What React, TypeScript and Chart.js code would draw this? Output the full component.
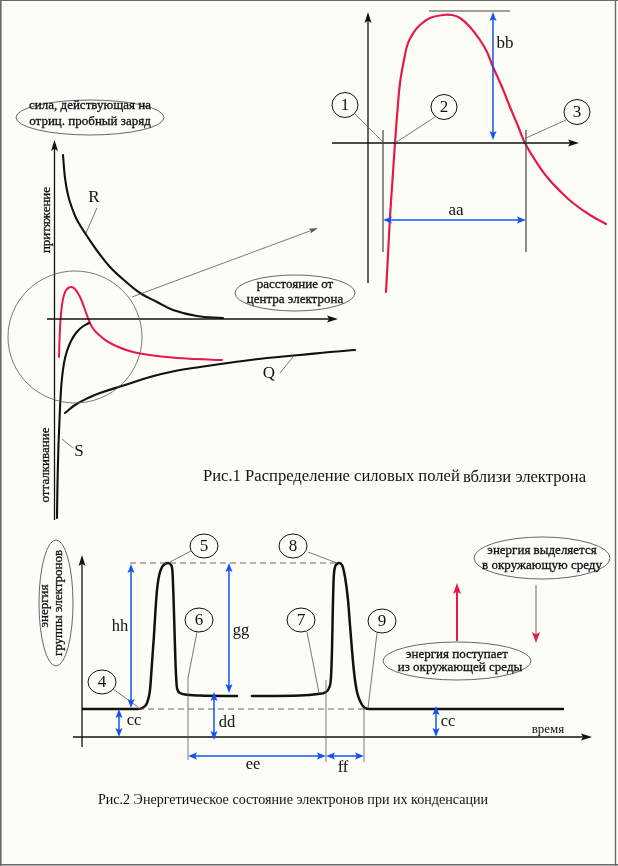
import React, { useEffect, useRef } from 'react';
import { Chart, registerables } from 'chart.js';

Chart.register(...registerables);

// ---- Diagram space: x to the right, y downwards (0..618, 0..866) ----
const SPACE_W = 618;
const SPACE_H = 866;

// Fig.1 (left): force curves
const curveR: number[][] = [[63,155],[65,178],[68,195],[72,208],[77,220],[87,236],[98,252],[110,267],[125,281],[140,293],[157,302],[173,310],[197,316],[223,318]];
const curveS: number[][] = [[89,323],[82,327],[76,333],[71,341],[67,351],[64,363],[62,378],[60.5,398],[59.5,420],[58.5,445],[57.8,470],[57.3,495],[57,518]];
const curveQ: number[][] = [[65,413],[75,405],[88,398],[100,393],[125,385],[150,377],[175,371],[200,367],[235,362],[267,358],[300,355],[330,352],[355,350]];
const curveRedSmall: number[][] = [[59,357],[59.5,340],[60.5,320],[62,305],[64,295],[67,289],[71,287],[75,289],[80,297],[84,307],[88,318],[92,327],[97,333],[110,343],[133,352],[167,357],[195,359],[222,360]];
// Fig.1 (right): magnified resulting curve
const curveRedBig: number[][] = [[386,292],[388,255],[390,217],[392.5,180],[395,143],[397.5,110],[400,83],[404,60],[408,43],[414,32],[420,25],[430,18],[443,15],[452,15],[460,18],[470,27],[480,40],[487,52],[493,67],[502,87],[510,107],[518,126],[525,143],[535,160],[547,177],[560,191],[573,203],[590,215],[606,224]];
// Fig.2: energy of electron group over time
const energyRise: number[][] = [[83,709],[138,709],[143,707.5],[147,703],[150,690],[152,663],[154,635],[155.5,610],[157,590],[159,576],[162,567],[165,564],[168,563],[171,565],[172.5,572],[173.5,597],[174.5,630],[175.5,663],[177,688],[180,693],[185,694.5],[200,695.5],[237,696]];
const energyFall: number[][] = [[252,696],[300,695.5],[318,694],[325,692.5],[329,688],[331,677],[332,650],[332.8,610],[333.6,580],[335,567],[337,564],[339,563],[342,565],[345,577],[348,600],[350,625],[352,650],[354,672],[357,692],[361,703],[365,708],[370,709],[563,709]];

// Texts
const ellipseForce = ['сила, действующая на', 'отриц. пробный заряд'];
const ellipseDistance = ['расстояние от', 'центра электрона'];
const axisAttraction = 'притяжение';
const axisRepulsion = 'отталкивание';
const curveNames = ['R', 'S', 'Q'];
const caption1 = 'Рис.1 Распределение силовых полей';
const caption1Tail = 'вблизи электрона';
const ellipseEnergy = ['энергия', 'группы электронов'];
const ellipseRelease = ['энергия выделяется', 'в окружающую среду'];
const ellipseIntake = ['энергия поступает', 'из окружающей среды'];
const timeLabel = 'время';
const caption2 = 'Рис.2 Энергетическое состояние электронов при их конденсации';
const dimNames = ['aa', 'bb', 'cc', 'dd', 'ee', 'ff', 'gg', 'hh'];
const pointNumbers = ['1', '2', '3', '4', '5', '6', '7', '8', '9'];

const BLACK = '#111';
const GRAY = '#555';
const BLUE = '#1452f2';
const RED = '#e6194b';
const SERIF = "'Liberation Serif', 'Times New Roman', serif";

const toXY = (arr: number[][]) => arr.map(([x, y]) => ({ x, y }));

const diagramPlugin = {
  id: 'diagram',
  beforeDraw(chart: any) {
    const ctx = chart.ctx;
    ctx.save();
    ctx.fillStyle = '#fdfdf8';
    ctx.fillRect(0, 0, chart.width, chart.height);
    ctx.restore();
  },
  afterDatasetsDraw(chart: any) {
    const ctx = chart.ctx;
    const xs = chart.scales.x;
    const ys = chart.scales.y;
    const X = (v: number) => xs.getPixelForValue(v);
    const Y = (v: number) => ys.getPixelForValue(v);
    ctx.save();

    const ln = (x1: number, y1: number, x2: number, y2: number, c = BLACK, w = 1, dash: number[] = []) => {
      ctx.beginPath();
      ctx.setLineDash(dash);
      ctx.strokeStyle = c;
      ctx.lineWidth = w;
      ctx.moveTo(X(x1), Y(y1));
      ctx.lineTo(X(x2), Y(y2));
      ctx.stroke();
      ctx.setLineDash([]);
    };
    const head = (fx: number, fy: number, tx: number, ty: number, c: string, len: number, hw: number) => {
      const px = X(tx), py = Y(ty);
      const dx = px - X(fx), dy = py - Y(fy);
      const d = Math.hypot(dx, dy) || 1;
      const ux = dx / d, uy = dy / d;
      ctx.beginPath();
      ctx.fillStyle = c;
      ctx.moveTo(px, py);
      ctx.lineTo(px - ux * len - uy * hw, py - uy * len + ux * hw);
      ctx.lineTo(px - ux * len * 0.8, py - uy * len * 0.8);
      ctx.lineTo(px - ux * len + uy * hw, py - uy * len - ux * hw);
      ctx.closePath();
      ctx.fill();
    };
    const arrow = (fx: number, fy: number, tx: number, ty: number, c = BLACK, w = 1.3, len = 11, hw = 3.5, hc?: string) => {
      const d = Math.hypot(tx - fx, ty - fy);
      const ux = (tx - fx) / d, uy = (ty - fy) / d;
      ln(fx, fy, tx - ux * len * 0.7, ty - uy * len * 0.7, c, w);
      head(fx, fy, tx, ty, hc || c, len, hw);
    };
    const dbl = (x1: number, y1: number, x2: number, y2: number, c = BLUE, w = 1.5, len = 9, hw = 3.5) => {
      const d = Math.hypot(x2 - x1, y2 - y1);
      const ux = (x2 - x1) / d, uy = (y2 - y1) / d;
      ln(x1 + ux * len * 0.7, y1 + uy * len * 0.7, x2 - ux * len * 0.7, y2 - uy * len * 0.7, c, w);
      head(x1, y1, x2, y2, c, len, hw);
      head(x2, y2, x1, y1, c, len, hw);
    };
    const ell = (cx: number, cy: number, rx: number, ry: number, c = BLACK, w = 1) => {
      ctx.beginPath();
      ctx.strokeStyle = c;
      ctx.lineWidth = w;
      ctx.ellipse(X(cx), Y(cy), Math.abs(X(cx + rx) - X(cx)), Math.abs(Y(cy + ry) - Y(cy)), 0, 0, Math.PI * 2);
      ctx.stroke();
    };
    const txt = (s: string, x: number, y: number, size: number, align: CanvasTextAlign = 'center', rot = 0, bold = 0, c = BLACK) => {
      ctx.save();
      ctx.translate(X(x), Y(y));
      if (rot) ctx.rotate(rot);
      ctx.font = `${size}px ${SERIF}`;
      ctx.fillStyle = c;
      ctx.textAlign = align;
      ctx.textBaseline = 'middle';
      ctx.fillText(s, 0, 0);
      if (bold) {
        ctx.strokeStyle = c;
        ctx.lineWidth = bold;
        ctx.strokeText(s, 0, 0);
      }
      ctx.restore();
    };
    const numbered = (s: string, cx: number, cy: number, rx: number, ry: number) => {
      ell(cx, cy, rx, ry, BLACK, 1);
      txt(s, cx, cy + 0.5, 17);
    };
    const note = (s: string, x: number, y: number, rot = 0) => txt(s, x, y, 13, 'center', rot, 0.3);

    // frame
    ln(0.8, 0, 0.8, 866, '#6a6a6a', 1.6);
    ln(0, 0.5, 618, 0.5, '#6a6a6a', 1);
    ln(615.5, 0, 615.5, 866, '#6a6a6a', 1.4);
    ln(0, 864.7, 618, 864.7, '#6a6a6a', 1.4);

    // ===== Fig.1 left =====
    arrow(54.5, 520, 54.5, 140);
    arrow(47, 319, 338, 319);
    ell(90, 117.5, 74, 17.5, GRAY, 0.9);
    note(ellipseForce[0], 90, 106);
    note(ellipseForce[1], 90, 122);
    ell(295, 293, 60, 18, GRAY, 0.9);
    note(ellipseDistance[0], 295, 285);
    note(ellipseDistance[1], 295, 300);
    note(axisAttraction, 47, 220, -Math.PI / 2);
    note(axisRepulsion, 46, 465, -Math.PI / 2);
    txt(curveNames[0], 94, 198, 17);
    txt(curveNames[1], 79, 452, 17);
    txt(curveNames[2], 269, 374, 17);
    ln(97, 208, 86, 233, GRAY, 0.8);
    ln(73, 448, 62, 439, GRAY, 0.8);
    ln(280, 373, 293, 357, GRAY, 0.8);
    ell(75, 337, 67, 66, GRAY, 0.8);
    arrow(132, 297, 318, 228, GRAY, 0.8, 9, 2.5);
    txt(caption1, 203, 477, 16.6, 'left');
    txt(caption1Tail, 463, 478, 16.6, 'left');

    // ===== Fig.1 right =====
    arrow(368, 283, 368, 12);
    arrow(332, 143, 579, 143);
    ln(429, 11, 510, 11, '#444', 1);
    dbl(493, 12, 493, 140);
    txt(dimNames[1], 505, 44, 17);
    ln(383, 130, 383, 252, '#444', 1.2);
    ln(526, 130, 526, 252, '#444', 1.2);
    dbl(383, 220, 526, 220);
    txt(dimNames[0], 456, 211, 17);
    numbered(pointNumbers[0], 345, 105, 13, 12.5);
    numbered(pointNumbers[1], 444, 107, 13, 12.5);
    numbered(pointNumbers[2], 577, 112, 13, 12.5);
    ln(355, 114, 383, 142, GRAY, 0.8);
    ln(435, 117, 395, 143, GRAY, 0.8);
    ln(566, 120, 526, 138, GRAY, 0.8);

    // ===== Fig.2 =====
    ell(56, 603, 17, 63, GRAY, 0.9);
    note(ellipseEnergy[0], 45, 606, -Math.PI / 2);
    note(ellipseEnergy[1], 59, 603, -Math.PI / 2);
    arrow(82, 747, 82, 555);
    arrow(73, 737, 592, 737);
    ln(130, 563, 337, 563, GRAY, 0.9, [6, 4]);
    ln(138, 709, 365, 709, GRAY, 0.9, [6, 4]);

    numbered(pointNumbers[3], 102, 682, 14, 12);
    numbered(pointNumbers[4], 204, 546, 14, 12);
    numbered(pointNumbers[5], 199, 620, 14, 12);
    numbered(pointNumbers[6], 301, 620, 14, 12);
    numbered(pointNumbers[7], 293, 546, 14, 12);
    numbered(pointNumbers[8], 382, 621, 14, 12);
    ln(113, 689, 138, 707, GRAY, 0.8);
    ln(191, 551, 170, 562, GRAY, 0.8);
    ln(197, 632, 188, 678, GRAY, 0.8);
    ln(188, 678, 188, 760, GRAY, 0.8);
    ln(307, 632, 319, 693, GRAY, 0.8);
    ln(326, 680, 326, 762, GRAY, 0.8);
    ln(308, 552, 337, 563, GRAY, 0.8);
    ln(377, 633, 368, 708, GRAY, 0.8);
    ln(364, 709, 364, 762, GRAY, 0.8);

    dbl(131, 564, 131, 708);
    txt(dimNames[7], 120, 627, 16.5);
    dbl(229, 563, 229, 693);
    txt(dimNames[6], 241, 631, 16.5);
    dbl(119, 709, 119, 737);
    txt(dimNames[2], 134, 721, 16.5);
    dbl(214, 692, 214, 740);
    txt(dimNames[3], 227, 723, 16.5);
    dbl(436, 706, 436, 737);
    txt(dimNames[2], 448, 722, 16.5);
    dbl(188, 756, 326, 756);
    txt(dimNames[4], 253, 765, 16.5);
    dbl(326, 756, 364, 756);
    txt(dimNames[5], 343, 768, 16.5);

    arrow(457, 641, 457, 583, RED, 2, 11, 4);
    arrow(536, 585, 536, 643, GRAY, 0.9, 11, 4, RED);
    ell(542, 558, 68, 21, GRAY, 0.9);
    note(ellipseRelease[0], 542, 551);
    note(ellipseRelease[1], 542, 566);
    ell(457, 661, 74, 19, GRAY, 0.9);
    note(ellipseIntake[0], 457, 655);
    note(ellipseIntake[1], 460, 668);
    txt(timeLabel, 548, 730, 13);
    txt(caption2, 293, 800, 14.1);

    ctx.restore();
  },
};

export default function App() {
  const ref = useRef<HTMLCanvasElement | null>(null);
  useEffect(() => {
    if (!ref.current) return;
    const line = (data: number[][], color: string, width: number, mono = false) => ({
      data: toXY(data),
      showLine: true,
      borderColor: color,
      borderWidth: width,
      pointRadius: 0,
      fill: false,
      tension: mono ? 0 : 0.4,
      cubicInterpolationMode: mono ? 'monotone' : 'default',
      borderCapStyle: 'round',
      borderJoinStyle: 'round',
    });
    const chart = new Chart(ref.current, {
      type: 'scatter',
      data: {
        datasets: [
          line(curveR, BLACK, 2.1),
          line(curveS, BLACK, 2.1),
          line(curveQ, BLACK, 2.1),
          line(curveRedSmall, RED, 2),
          line(curveRedBig, RED, 2.2),
          line(energyRise, BLACK, 2.5, true),
          line(energyFall, BLACK, 2.5, true),
        ] as any,
      },
      options: {
        responsive: false,
        animation: false,
        events: [],
        layout: { padding: 0 },
        plugins: { legend: { display: false }, tooltip: { enabled: false } },
        scales: {
          x: { type: 'linear', min: 0, max: SPACE_W, display: false },
          y: { type: 'linear', min: 0, max: SPACE_H, reverse: true, display: false },
        },
      } as any,
      plugins: [diagramPlugin as any],
    });
    return () => chart.destroy();
  }, []);
  return (
    <div style={{ position: 'absolute', left: 0, top: 0, width: SPACE_W, height: SPACE_H }}>
      <canvas ref={ref} width={SPACE_W} height={SPACE_H} style={{ display: 'block', width: SPACE_W, height: SPACE_H }} />
    </div>
  );
}
